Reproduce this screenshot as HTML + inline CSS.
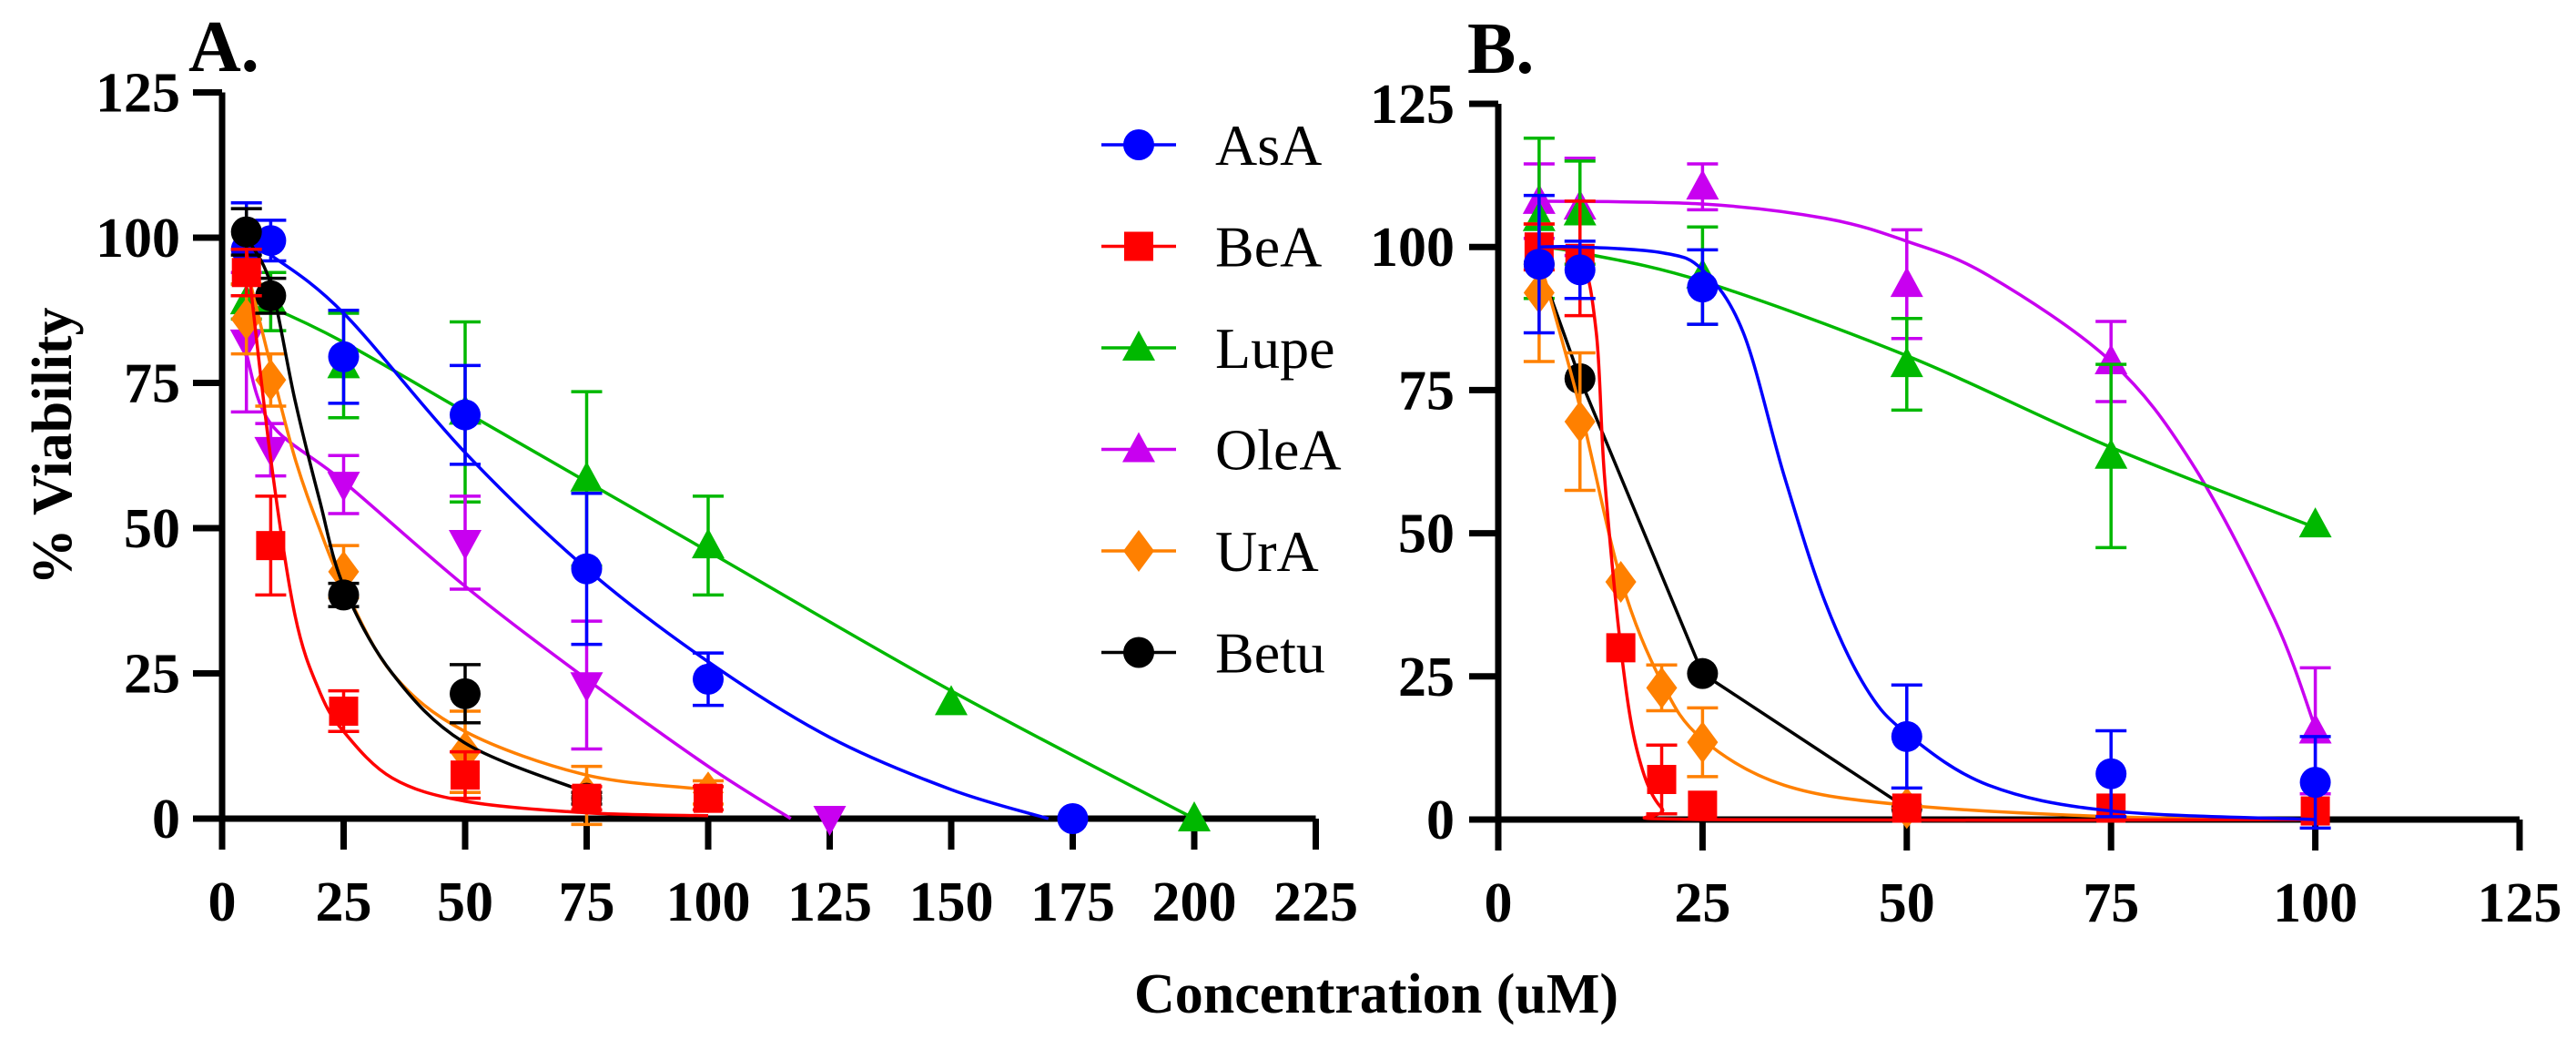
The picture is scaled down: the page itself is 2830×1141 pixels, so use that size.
<!DOCTYPE html>
<html><head><meta charset="utf-8">
<style>
html,body{margin:0;padding:0;background:#fff;}
svg{display:block;}
text{font-family:"Liberation Serif",serif;}
</style></head>
<body>
<svg id="chart" width="2830" height="1141" viewBox="0 0 2830 1141" xmlns="http://www.w3.org/2000/svg">
<rect width="2830" height="1141" fill="#fff"/>
<text x="207" y="78" font-size="80" font-weight="bold">A.</text>
<text x="1612" y="80" font-size="80" font-weight="bold">B.</text>
<text transform="translate(78,490) rotate(-90)" text-anchor="middle" font-size="62" font-weight="bold">% Viability</text>
<text x="1512" y="1112" text-anchor="middle" font-size="62" font-weight="bold">Concentration (uM)</text>
<g id="gA"></g><g id="gB"></g><g id="legend"></g>
</svg>
<script>
// ---------- Panel A data ----------
const aAsaX=[5,10,25,50,75,100,175], aAsaY=[98,99.5,79.5,69.5,43,24,0], aAsaE=[8,3.5,8,8.5,13,4.5,0];
const aAsaFX=[5,10,25,50,75,100,125,150,170], aAsaFY=[99,97,87,63,43,27,14,5,0];
const aBeaX=[5,10,25,50,75,100], aBeaY=[94,47,18.5,7.5,3.5,3.5], aBeaE=[4,8.5,3.5,4,2,2];
const aBeaFX=[5,10,15,20,25,35,50,75,100], aBeaFY=[98,62,35,22,15,7,3,1,0.5];
const aLupX=[5,10,25,50,75,100,150,200], aLupY=[89,89,78,70,58.5,47,20,0], aLupE=[3,5,9,15.5,15,8.5,0,0];
const aLupFX=[5,10,25,50,75,100,150,200], aLupFY=[89,88,82,70,58,46,22,0];
const aOleX=[5,10,25,50,75,125], aOleY=[82,63.5,57.5,47.5,23,0], aOleE=[12,4.5,5,8,11,0];
const aOleFX=[5,10,25,50,75,100,117], aOleFY=[80,68,58,40,24,9,0];
const aUraX=[5,10,25,50,75,100], aUraY=[86,75.5,42.5,11.5,4,4.5], aUraE=[6,4.5,4.5,7,5,2];
const aUraFX=[5,10,15,20,25,35,50,75,100], aUraFY=[95,78,62,50,40,25,15,7.5,5];
const aBetX=[5,10,25,50,75], aBetY=[101,90,38.5,21.5,3.5], aBetE=[4,3,2,5,1];
const aBetFX=[5,10,15,20,25,35,50,75], aBetFY=[100,92,72,55,40,25,13,4.5];
const aXTicks=[0,25,50,75,100,125,150,175,200,225], aYTicks=[0,25,50,75,100,125];
// ---------- Panel B data ----------
const bAsaX=[5,10,25,50,75,100], bAsaY=[97,96,93,14.5,8,6.5], bAsaE=[12,5,6.5,9,7.5,8];
const bAsaFX=[5,10,20,25,30,35,40,45,50,60,75,100], bAsaFY=[100,100,99,96,85,60,38,23,15,6,1.5,0];
const bBeaX=[5,10,15,20,25,50,75,100], bBeaY=[100,98,30,7,2.5,2,2,1.5], bBeaE=[4,10,0,6,0,0,0,0];
const bBeaFX=[5,10,12,13,15,17,20,25,100], bBeaFY=[100,98,85,60,30,12,2,0,0];
const bLupX=[5,10,25,50,75,100], bLupY=[105,106,95,79.5,63.5,51.5], bLupE=[14,9,8.5,8,16,0];
const bLupFX=[5,10,25,50,75,100], bLupFY=[100,99,94,81,65,51];
const bOleX=[5,10,25,50,75,100], bOleY=[108,107,110.5,93.5,80,15.5], bOleE=[6.5,8.5,4,9.5,7,11];
const bOleFX=[5,25,40,50,60,75,85,95,100], bOleFY=[108,107.5,105,101,95,80,62,35,16];
const bUraX=[5,10,15,20,25,50], bUraY=[92,69.5,41.5,23,13.5,2], bUraE=[12,12,0,4,6,0];
const bUraFX=[5,10,15,20,25,35,50,75,100], bUraFY=[98,72,42,24,14,6,2.5,0.5,0];
const bBetX=[5,10,25,50], bBetY=[97,77,25.5,2], bBetE=[0,0,0,0];
const bXTicks=[0,25,50,75,100,125], bYTicks=[0,25,50,75,100,125];
// ---------- legend ----------
const legendNames=['AsA','BeA','Lupe','OleA','UrA','Betu'];
const legendColors=['#0000ff','#ff0000','#00b800','#c800f0','#ff8000','#000000'];
const legendShapes=['circle','square','tri','tri','diamond','circle'];

const NS='http://www.w3.org/2000/svg';
function mk(parent,tag,attrs){const e=document.createElementNS(NS,tag);for(const k in attrs)e.setAttribute(k,attrs[k]);parent.appendChild(e);return e;}
const xA=v=>244+v*133.5/25, yA=v=>899-v*159.5/25;
const xB=v=>1646+v*224.4/25, yB=v=>900-v*157.2/25;

function smooth(xs,ys,fx,fy){
  const p=xs.map((x,i)=>[fx(x),fy(ys[i])]);
  let d='M'+p[0][0]+','+p[0][1];
  for(let i=0;i<p.length-1;i++){
    const p0=p[i-1]||p[i],p1=p[i],p2=p[i+1],p3=p[i+2]||p2;
    const c1=[p1[0]+(p2[0]-p0[0])/6,p1[1]+(p2[1]-p0[1])/6];
    const c2=[p2[0]-(p3[0]-p1[0])/6,p2[1]-(p3[1]-p1[1])/6];
    d+=' C'+c1[0]+','+c1[1]+' '+c2[0]+','+c2[1]+' '+p2[0]+','+p2[1];
  }
  return d;
}
function marker(g,shape,cx,cy,col,name){
  let e;
  if(shape==='circle') e=mk(g,'circle',{cx:cx,cy:cy,r:17,fill:col});
  else if(shape==='square') e=mk(g,'rect',{x:cx-16,y:cy-16,width:32,height:32,fill:col});
  else if(shape==='tri') e=mk(g,'polygon',{points:`${cx},${cy-19} ${cx-18},${cy+14} ${cx+18},${cy+14}`,fill:col});
  else if(shape==='dtri') e=mk(g,'polygon',{points:`${cx},${cy+19} ${cx-18},${cy-14} ${cx+18},${cy-14}`,fill:col});
  else e=mk(g,'polygon',{points:`${cx},${cy-23} ${cx+17},${cy} ${cx},${cy+23} ${cx-17},${cy}`,fill:col});
  
  
}
function series(g,fx,fy,X,Y,E,FX,FY,col,shape,name,linear){
  let d;
  if(linear){d='M'+X.map((x,i)=>fx(x)+','+fy(Y[i])).join(' L');}
  else d=smooth(FX,FY,fx,fy);
  const l=mk(g,'path',{d:d,fill:'none',stroke:col,'stroke-width':3.5});
  
  
  X.forEach((x,i)=>{
    if(E[i]>0){
      const cx=fx(x),t=fy(Y[i]+E[i]),b=fy(Y[i]-E[i]);
      const eb=mk(g,'path',{d:`M${cx},${t} L${cx},${b} M${cx-17},${t} L${cx+17},${t} M${cx-17},${b} L${cx+17},${b}`,stroke:col,'stroke-width':3.5,fill:'none'});
      
      
    }
  });
  X.forEach((x,i)=>marker(g,shape,fx(x),fy(Y[i]),col,name+'-point'));
}
function axes(g,fx,fy,xt,yt,yLabelX,xMaxV,yMaxV,name){
  const ax=mk(g,'path',{d:`M${fx(0)},${fy(yMaxV)} L${fx(0)},${fy(0)} L${fx(xMaxV)},${fy(0)}`,stroke:'#000','stroke-width':7,fill:'none'});
  
  
  yt.forEach(v=>{
    const t=mk(g,'line',{x1:fx(0)-32,x2:fx(0),y1:fy(v),y2:fy(v),stroke:'#000','stroke-width':7});
    
    
    const tx=mk(g,'text',{x:yLabelX,y:fy(v)+21,'text-anchor':'end','font-size':62,'font-weight':'bold'});
    tx.textContent=v;
    
    
  });
  xt.forEach(v=>{
    const t=mk(g,'line',{x1:fx(v),x2:fx(v),y1:fy(0),y2:fy(0)+34,stroke:'#000','stroke-width':7});
    
    
    const tx=mk(g,'text',{x:fx(v),y:fy(0)+112,'text-anchor':'middle','font-size':62,'font-weight':'bold'});
    tx.textContent=v;
    
    
  });
}
const gA=document.getElementById('gA'), gB=document.getElementById('gB');
const C=legendColors;
axes(gA,xA,yA,aXTicks,aYTicks,198,225,125,'panel-a');
series(gA,xA,yA,aLupX,aLupY,aLupE,aLupFX,aLupFY,C[2],'tri','a-lupe');
series(gA,xA,yA,aOleX,aOleY,aOleE,aOleFX,aOleFY,C[3],'dtri','a-olea');
series(gA,xA,yA,aAsaX,aAsaY,aAsaE,aAsaFX,aAsaFY,C[0],'circle','a-asa');
series(gA,xA,yA,aUraX,aUraY,aUraE,aUraFX,aUraFY,C[4],'diamond','a-ura');
series(gA,xA,yA,aBetX,aBetY,aBetE,aBetFX,aBetFY,C[5],'circle','a-betu');
series(gA,xA,yA,aBeaX,aBeaY,aBeaE,aBeaFX,aBeaFY,C[1],'square','a-bea');

axes(gB,xB,yB,bXTicks,bYTicks,1598,125,125,'panel-b');
series(gB,xB,yB,bOleX,bOleY,bOleE,bOleFX,bOleFY,C[3],'tri','b-olea');
series(gB,xB,yB,bLupX,bLupY,bLupE,bLupFX,bLupFY,C[2],'tri','b-lupe');
series(gB,xB,yB,bBetX,bBetY,bBetE,null,null,C[5],'circle','b-betu',true);
series(gB,xB,yB,bUraX,bUraY,bUraE,bUraFX,bUraFY,C[4],'diamond','b-ura');
series(gB,xB,yB,bBeaX,bBeaY,bBeaE,bBeaFX,bBeaFY,C[1],'square','b-bea');
series(gB,xB,yB,bAsaX,bAsaY,bAsaE,bAsaFX,bAsaFY,C[0],'circle','b-asa');

const lg=document.getElementById('legend');
legendNames.forEach((n,i)=>{
  const y=159+i*111.5;
  const g=mk(lg,'g',{});
  
  
  mk(g,'line',{x1:1210,x2:1292,y1:y,y2:y,stroke:C[i],'stroke-width':3.5});
  marker(g,legendShapes[i],1251,y,C[i],'legend-marker');
  const t=mk(g,'text',{x:1335,y:y+22,'font-size':64});
  t.textContent=n;
  
  
});
</script>
</body></html>
